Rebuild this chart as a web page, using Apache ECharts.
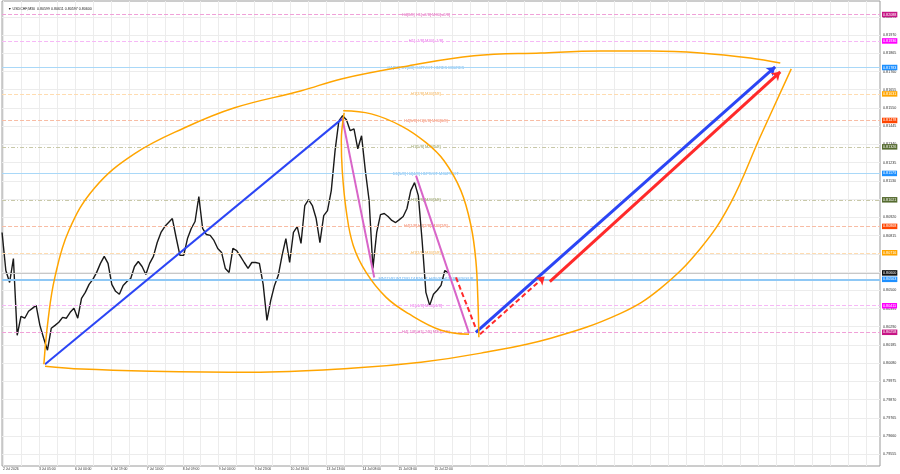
<!DOCTYPE html>
<html>
<head>
<meta charset="utf-8">
<script src="https://cdn.jsdelivr.net/npm/echarts@6/dist/echarts.min.js"></script>
<style>
html, body { margin: 0; padding: 0; background: #fff; }
#chart { width: 900px; height: 474px; }
</style>
</head>
<body>
<div id="chart"></div>
<script>
// USDCHF M30 - price sampled every 2 trading hours from the left edge
const priceStepHours = 2
const priceCloses = [
  0.80833, 0.80614, 0.80545, 0.80683, 0.80241, 0.80350, 0.80339, 0.80379, 0.80396, 0.80413,
  0.80298, 0.80224, 0.80155, 0.80281, 0.80298, 0.80316, 0.80344, 0.80339, 0.80373, 0.80396,
  0.80339, 0.80454, 0.80488, 0.80534, 0.80563, 0.80603, 0.80655, 0.80695, 0.80655, 0.80534,
  0.80494, 0.80477, 0.80528, 0.80551, 0.80568, 0.80637, 0.80666, 0.80637, 0.80591, 0.80655,
  0.80695, 0.80775, 0.80833, 0.80867, 0.80890, 0.80913, 0.80804, 0.80701, 0.80701, 0.80798,
  0.80856, 0.80896, 0.81040, 0.80856, 0.80821, 0.80816, 0.80787, 0.80741, 0.80718, 0.80626,
  0.80603, 0.80741, 0.80729, 0.80695, 0.80660, 0.80626, 0.80660, 0.80660, 0.80655, 0.80534,
  0.80327, 0.80442, 0.80528, 0.80586, 0.80701, 0.80798, 0.80660, 0.80833, 0.80867, 0.80770,
  0.80988, 0.81022, 0.80988, 0.80913, 0.80775, 0.80930, 0.80959, 0.81074, 0.81304, 0.81476,
  0.81505, 0.81482, 0.81419, 0.81430, 0.81315, 0.81390, 0.81189, 0.81017, 0.80626, 0.80833,
  0.80936, 0.80942, 0.80925, 0.80902, 0.80890, 0.80907, 0.80925, 0.80971, 0.81074, 0.81120,
  0.81045, 0.80787, 0.80488, 0.80413, 0.80477, 0.80500, 0.80528, 0.80614, 0.80600
]
const lastPrice = 0.80600
const titleText = '\u25BC USDCHF,M30  0.80599 0.80611 0.80597 0.80600'

// time axis (trading hours from left edge)
const xMaxHours = 464
const xLabelHours = [0.5, 19.5, 38.5, 57.5, 76.5, 95.5, 114.5, 133.5, 152.5, 171.5, 190.5, 209.5, 228.5]
const xLabelText = ['2 Jul 2026', '3 Jul 05:00', '6 Jul 00:00', '6 Jul 19:00', '7 Jul 14:00', '8 Jul 09:00',
  '9 Jul 04:00', '9 Jul 23:00', '10 Jul 18:00', '13 Jul 13:00', '14 Jul 08:00', '15 Jul 03:00', '15 Jul 22:00']

// price axis
const yMin = 0.79488
const yMax = 0.82166
const yTicks = [0.79555, 0.79660, 0.79765, 0.79870, 0.79975, 0.80080, 0.80185, 0.80290, 0.80395,
  0.80500, 0.80605, 0.80710, 0.80815, 0.80920, 0.81025, 0.81130, 0.81235, 0.81340, 0.81445,
  0.81550, 0.81655, 0.81760, 0.81865, 0.81970, 0.82075]

// Murrey math levels
const mmLevels = [0.82088, 0.81936, 0.81783, 0.81631, 0.81478, 0.81326, 0.81173, 0.81021, 0.80868, 0.80716, 0.80563, 0.80411, 0.80258]
const mmNames = [
  'H4[8/8] H1[+2/8] M30[+2/8]',
  'H1[+1/8] M30[+1/8]',
  'H1[8/8] D1[6/8] H4PIVOT H1RES M30RES',
  'H1[7/8] M30[7/8]',
  'H4[5/8] H1[6/8] M30[6/8]',
  'H1[5/8] M30[5/8]',
  'D1[5/8] H4[4/8] H1PIVOT M30PIVOT',
  'H1[3/8] M30[3/8]',
  'H4[1/8] H1[2/8] M30[2/8]',
  'H1[1/8] M30[1/8]',
  'MN1[1/8] W1[2/8] D1PIVOT H4[0/8] H1SUP M30SUP',
  'H1[-1/8] M30[-1/8]',
  'H4[-1/8] H1[-2/8] M30[-2/8]'
]
const mmLabelHour = 224
const mmLineColors = ['#f0a0d8', '#f6b8f6', '#a9d8f8', '#ffdcb0', '#f8bca4', '#c8c8a8', '#a9d8f8', '#c8c8a8', '#f8bca4', '#ffdcb0', '#8fc8f5', '#f6b8f6', '#f0a0d8']
const mmLineTypes = ['dashed', 'dashed', 'solid', 'dashed', 'dashed', [4, 2, 1, 2], 'solid', [4, 2, 1, 2], 'dashed', 'dashed', 'solid', 'dashed', 'dashed']
const mmLineWidths = [1, 1, 1, 1, 1, 1, 1, 1, 1, 1, 2, 1, 1]
const mmTextColors = ['#d63aa6', '#e040e0', '#3a9ae8', '#f0a030', '#f06040', '#7a8a3a', '#3a9ae8', '#7a8a3a', '#f06040', '#f0a030', '#3a9ae8', '#e040e0', '#d63aa6']
const mmBoxColors = ['#c71585', '#ff00ff', '#1e90ff', '#ffa500', '#ff4500', '#556b2f', '#1e90ff', '#556b2f', '#ff4500', '#ffa500', '#1e90ff', '#ff00ff', '#c71585']

// trend drawings: [startHour, startPrice, endHour, endPrice]
const blueTrend = [22.7, 0.80074, 180.3, 0.81493]
const pinkTrend1 = [179.8, 0.81493, 196.7, 0.80574]
const pinkTrend2 = [218.8, 0.81160, 246.8, 0.80252]
const blueArrow = [250.4, 0.80258, 408.6, 0.81786]
const redArrow = [289.5, 0.80550, 411.3, 0.81758]
const redDashDown = [239.9, 0.80574, 250.4, 0.80281]
const redDashUp = [252.6, 0.80247, 286.8, 0.80580]

// orange arcs
const arcTopHours = [22.1, 24.3, 27.9, 35.3, 49.0, 70.1, 96.5, 122.9, 158.2, 179.3, 214.6, 249.4, 284.7, 316.4, 342.7, 369.1, 395.4, 411.3]
const arcTopPrices = [0.80074, 0.80327, 0.80574, 0.80844, 0.81091, 0.81287, 0.81436, 0.81551, 0.81649, 0.81717, 0.81792, 0.81850, 0.81867, 0.81878, 0.81878, 0.81867, 0.81838, 0.81809]
const arcLowHours = [22.7, 42.2, 79.1, 131.8, 184.5, 221.4, 253.1, 290.0, 326.9, 348.0, 369.1, 384.9, 400.7, 417.1]
const arcLowPrices = [0.80063, 0.80046, 0.80034, 0.80028, 0.80051, 0.80086, 0.80138, 0.80224, 0.80367, 0.80511, 0.80741, 0.80999, 0.81384, 0.81775]
const lensTopHours = [180.3, 195.1, 210.9, 224.1, 233.6, 242.5, 247.8, 250.4, 251.5, 252.0]
const lensTopPrices = [0.81534, 0.81516, 0.81447, 0.81350, 0.81246, 0.81074, 0.80873, 0.80672, 0.80442, 0.80229]
const lensLowHours = [180.8, 179.3, 179.8, 181.9, 185.6, 192.4, 203.0, 214.6, 232.0, 246.8]
const lensLowPrices = [0.81522, 0.81361, 0.81189, 0.80959, 0.80758, 0.80603, 0.80459, 0.80367, 0.80270, 0.80247]

const font = 'Liberation Sans'
const gridHours = []
for (let h = xLabelHours[0]; h <= xMaxHours; h += (xLabelHours[1] - xLabelHours[0]) / 2) gridHours.push(h)

function pairs(hours, prices) {
  return hours.map((h, i) => [h, prices[i]])
}
// one markLine segment from a drawing array
function seg(s, style) {
  return [{ coord: [s[0], s[1]], lineStyle: style }, { coord: [s[2], s[3]] }]
}
function boxLabel(text, bg) {
  return {
    show: true, position: 'end', distance: 2, formatter: text,
    color: '#fff', backgroundColor: bg, fontSize: 3.7, fontFamily: font, padding: [1, 1, 0.5, 1]
  }
}

const chart = echarts.init(document.getElementById('chart'))

const levelLines = mmLevels.map((v, i) => ({
  yAxis: v,
  lineStyle: { color: mmLineColors[i], type: mmLineTypes[i], width: mmLineWidths[i] },
  label: boxLabel(v.toFixed(5), mmBoxColors[i])
}))
levelLines.push({
  yAxis: lastPrice,
  lineStyle: { color: '#c8c8c8', type: 'solid', width: 1 },
  label: boxLabel(lastPrice.toFixed(5), '#111')
})

function arcSeries(hours, prices) {
  return {
    type: 'line', data: pairs(hours, prices), smooth: 0.4, showSymbol: false, z: 6, silent: true,
    lineStyle: { color: '#ffa500', width: 1.5 }
  }
}

chart.setOption({
  animation: false,
  backgroundColor: '#fff',
  title: {
    text: titleText, left: 3, top: 2,
    textStyle: { fontSize: 3.6, fontWeight: 'normal', color: '#222', fontFamily: font }
  },
  grid: { left: 1, right: 20, top: 1, bottom: 8, show: true, borderColor: '#9a9a9a', borderWidth: 1 },
  xAxis: {
    type: 'value', min: 0, max: xMaxHours,
    axisLine: { show: false },
    axisTick: { show: false, customValues: gridHours },
    splitLine: { show: true, lineStyle: { color: '#ececec', width: 1 } },
    axisLabel: {
      customValues: xLabelHours, align: 'left', margin: 2, fontSize: 3.4, color: '#333', fontFamily: font,
      formatter: v => xLabelText[xLabelHours.indexOf(v)] || ''
    }
  },
  yAxis: {
    type: 'value', position: 'right', min: yMin, max: yMax, scale: true,
    axisLine: { show: false },
    axisTick: { show: false, customValues: yTicks },
    splitLine: { show: true, lineStyle: { color: '#ececec', width: 1 } },
    axisLabel: {
      customValues: yTicks, margin: 3, fontSize: 3.7, color: '#333', fontFamily: font,
      formatter: v => v.toFixed(5)
    }
  },
  series: [
    {
      // murrey math level texts, lines and price boxes
      type: 'scatter', symbolSize: 0, z: 2, silent: true,
      data: mmLevels.map((v, i) => ({
        value: [mmLabelHour, v], name: mmNames[i],
        label: { color: mmTextColors[i] }
      })),
      label: { show: true, position: 'inside', formatter: p => p.name, fontSize: 4, fontFamily: font },
      markLine: { silent: true, symbol: 'none', animation: false, precision: 5, data: levelLines }
    },
    {
      name: 'USDCHF', type: 'line', z: 4, showSymbol: false, silent: true,
      data: priceCloses.map((p, i) => [i * priceStepHours, p]),
      lineStyle: { color: '#1a1a1a', width: 1.4 }
    },
    arcSeries(arcTopHours, arcTopPrices),
    arcSeries(arcLowHours, arcLowPrices),
    arcSeries(lensTopHours, lensTopPrices),
    {
      type: 'line', data: pairs(lensLowHours, lensLowPrices), smooth: 0.4, showSymbol: false, z: 6, silent: true,
      lineStyle: { color: '#ffa500', width: 1.5 },
      markLine: {
        silent: true, animation: false, symbol: 'none', precision: 5, label: { show: false },
        data: [
          seg(blueTrend, { color: '#2b45f5', width: 2, type: 'solid' }),
          seg(pinkTrend1, { color: '#d865c8', width: 2, type: 'solid' }),
          seg(pinkTrend2, { color: '#d865c8', width: 2, type: 'solid' }),
          seg(redDashDown, { color: '#ff2a2a', width: 2, type: [5, 3] })
        ]
      }
    },
    {
      type: 'line', data: pairs([blueArrow[0]], [blueArrow[1]]), showSymbol: false, z: 9, silent: true,
      lineStyle: { width: 0 },
      markLine: {
        silent: true, animation: false, symbol: ['none', 'arrow'], symbolSize: 8, precision: 5,
        label: { show: false },
        data: [
          seg(blueArrow, { color: '#2b45f5', width: 3, type: 'solid' }),
          seg(redArrow, { color: '#ff2a2a', width: 3, type: 'solid' }),
          seg(redDashUp, { color: '#ff2a2a', width: 2, type: [5, 3] })
        ]
      }
    }
  ]
})
</script>
</body>
</html>
